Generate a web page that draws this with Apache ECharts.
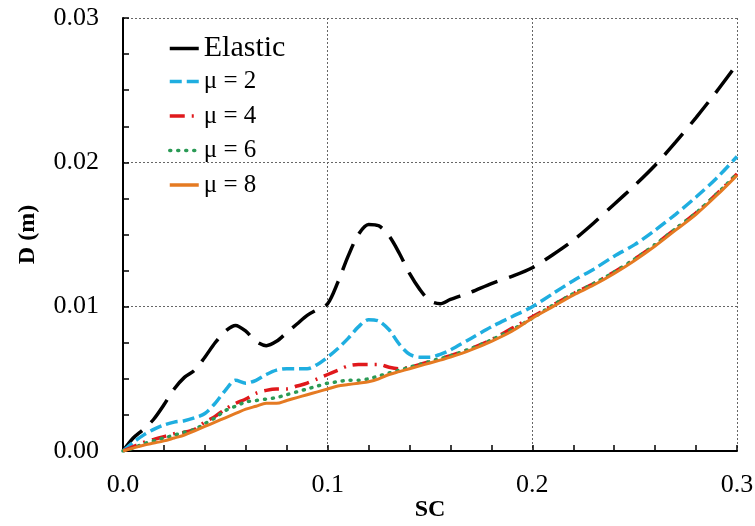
<!DOCTYPE html>
<html><head><meta charset="utf-8">
<script src="https://cdn.jsdelivr.net/npm/echarts@6/dist/echarts.min.js"></script>
<style>html,body{margin:0;padding:0;background:#fff}#c{width:755px;height:526px}</style>
</head><body><div id="c"></div>
<script>
var sc = [0,0.005,0.01,0.015,0.02,0.025,0.03,0.035,0.04,0.045,0.05,0.055,0.06,0.065,0.07,0.075,0.08,0.085,0.09,0.095,0.1,0.105,0.11,0.115,0.12,0.125,0.13,0.135,0.14,0.145,0.15,0.155,0.16,0.17,0.18,0.19,0.2,0.21,0.22,0.23,0.24,0.25,0.26,0.27,0.28,0.29,0.3];
var elastic = [0,.0009,.0015,.0022,.0032,.0043,.0051,.0056,.0065,.0075,.0083,.0087,.0083,.0076,.0073,.0076,.0082,.0088,.0094,.0098,.0102,.0117,.0135,.0150,.0157,.0156,.0149,.0137,.0123,.0112,.0104,.0102,.0105,.0110,.0116,.0121,.0127,.0136,.0146,.0158,.0171,.0184,.0198,.0214,.0231,.0249,.0268];
var mu2 = [0,.0006,.0011,.0015,.0018,.0020,.0021,.0023,.0026,.0033,.0042,.0049,.0047,.0049,.0053,.0056,.0057,.0057,.0057,.0060,.0065,.0071,.0078,.0086,.0091,.0090,.0084,.0074,.0067,.0065,.0065,.0067,.0070,.0078,.0086,.0093,.0100,.0109,.0118,.0126,.0135,.0143,.0153,.0164,.0176,.0189,.0204];
var mu4 = [0,.0003,.0006,.0008,.0010,.0012,.0013,.0015,.0020,.0024,.0029,.0033,.0036,.0040,.0042,.0043,.0043,.0045,.0047,.0050,.0053,.0056,.0059,.0060,.0060,.0060,.0058,.0057,.0058,.0060,.0062,.0064,.0066,.0071,.0077,.0085,.0093,.0101,.0109,.0116,.0124,.0133,.0143,.0154,.0165,.0178,.0192];
var mu6 = [0,.0002,.0005,.0007,.0009,.0011,.0013,.0015,.0019,.0023,.0028,.0031,.0034,.0035,.0036,.0037,.0039,.0041,.0043,.0045,.0047,.0048,.0049,.0049,.0050,.0052,.0054,.0056,.0058,.0060,.0062,.0064,.0066,.0071,.0077,.0084,.0092,.0101,.0109,.0116,.0124,.0133,.0143,.0154,.0165,.0178,.0192];
var mu8 = [0,.0002,.0004,.00055,.0007,.0009,.0011,.0014,.0017,.0020,.0023,.0026,.0029,.0031,.0033,.0033,.0035,.0037,.0039,.0041,.0043,.0045,.0046,.0047,.0048,.0050,.0053,.0055,.0057,.0059,.0061,.0063,.0065,.0070,.0076,.0083,.0092,.0100,.0108,.0115,.0123,.0132,.0142,.0153,.0164,.0177,.0191];
var seriesNames = ['Elastic','\u03bc = 2','\u03bc = 4','\u03bc = 6','\u03bc = 8'];

function pairs(v){ return sc.map(function(x,i){ return [x, v[i]]; }); }
var FONT = '"Liberation Serif", "Times New Roman", serif';
var styles = [
  {color:'#000000', width:3.5, type:[28,12]},
  {color:'#1FAEE0', width:3.5, type:[12,5]},
  {color:'#E0191C', width:3.5, type:[15,7,2,7]},
  {color:'#2A9A55', width:3.5, type:[1,7], cap:'round'},
  {color:'#E57A22', width:3, type:'solid'}
];
var vals = [elastic, mu2, mu4, mu6, mu8];
var series = vals.map(function(v,i){
  var s = styles[i];
  return {
    name: seriesNames[i], type:'line', data: pairs(v), smooth:0.3, symbol:'none',
    lineStyle:{color:s.color, width:s.width, type:s.type, cap:s.cap||'butt'},
    itemStyle:{color:s.color}, z: 2+i
  };
});
var chart = echarts.init(document.getElementById('c'), null, {renderer:'canvas'});
chart.setOption({
  animation:false,
  backgroundColor:'#fff',
  grid:{left:123, right:18, top:18, bottom:75, containLabel:false, outerBoundsMode:'none'},
  legend:[{
    orient:'vertical', left:163, top:28.5, itemWidth:29, itemHeight:16, itemGap:0,
    itemStyle:{opacity:0},
    lineStyle:{width:3.5, type:'solid'},
    textStyle:{fontFamily:FONT, fontSize:30, color:'#000'},
    data:[seriesNames[0]]
  },{
    orient:'vertical', left:163, top:64, itemWidth:29, itemHeight:16, itemGap:9.5,
    itemStyle:{opacity:0},
    lineStyle:{width:3.5},
    textStyle:{fontFamily:FONT, fontSize:25, color:'#000'},
    data:seriesNames.slice(1)
  }],
  xAxis:{
    type:'value', min:0, max:0.3, interval:0.1,
    name:'SC', nameLocation:'middle', nameGap:47, nameMoveOverlap:false,
    nameTextStyle:{fontFamily:FONT, fontSize:24, fontWeight:'bold', color:'#000'},
    axisLine:{show:true, onZero:false, lineStyle:{color:'#000', width:2}},
    axisTick:{show:true, inside:true, length:6, lineStyle:{color:'#000', width:1.5}},
    minorTick:{show:true, splitNumber:5, length:6, lineStyle:{color:'#000', width:1.5}},
    axisLabel:{fontFamily:FONT, fontSize:26, color:'#000', margin:21,
      formatter:function(v){ return v.toFixed(1); }},
    splitLine:{show:true, lineStyle:{color:'#666', type:[2,2], width:1}}
  },
  yAxis:{
    type:'value', min:0, max:0.03, interval:0.01,
    name:'D (m)', nameLocation:'middle', nameGap:83, nameRotate:90, nameMoveOverlap:false,
    nameTextStyle:{fontFamily:FONT, fontSize:24, fontWeight:'bold', color:'#000'},
    axisLine:{show:true, onZero:false, lineStyle:{color:'#000', width:2}},
    axisTick:{show:true, inside:true, length:6, lineStyle:{color:'#000', width:1.5}},
    minorTick:{show:true, splitNumber:4, length:6, lineStyle:{color:'#000', width:1.5}},
    axisLabel:{fontFamily:FONT, fontSize:26, color:'#000', margin:24,
      formatter:function(v){ return v.toFixed(2); }},
    splitLine:{show:true, lineStyle:{color:'#666', type:[2,2], width:1}}
  },
  series: series
});
</script></body></html>
